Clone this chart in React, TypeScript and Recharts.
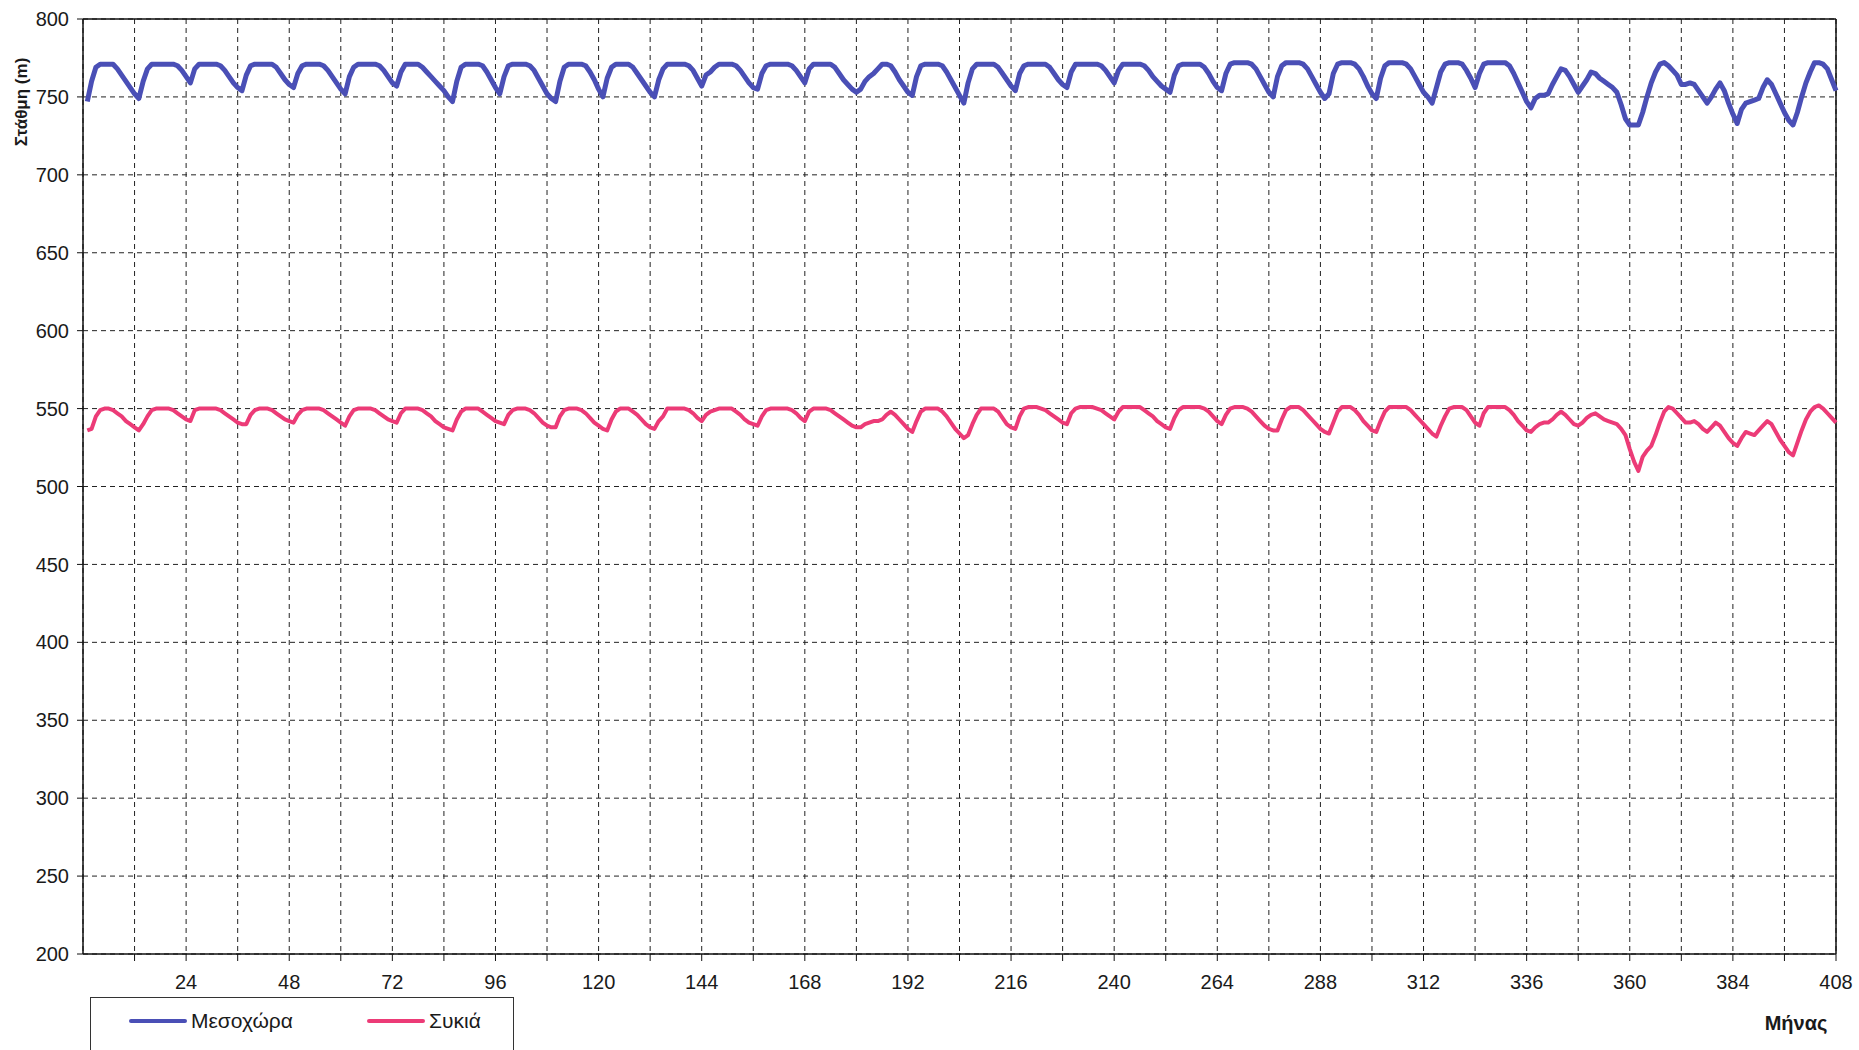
import React from "react";
import { LineChart, Line, XAxis, YAxis, CartesianGrid, ReferenceLine } from "recharts";

// Monthly water level (m) – Mesochora reservoir, months 1..408
const mesochora: number[] = [
  747, 760, 769, 771, 771, 771, 771, 768, 764, 760, 756, 752,
  749, 760, 768, 771, 771, 771, 771, 771, 771, 770, 767, 763,
  759, 768, 771, 771, 771, 771, 771, 770, 767, 763, 759, 756,
  754, 764, 770, 771, 771, 771, 771, 771, 769, 765, 761, 758,
  756, 765, 770, 771, 771, 771, 771, 770, 767, 763, 759, 755,
  752, 763, 769, 771, 771, 771, 771, 771, 770, 767, 763, 759,
  757, 766, 771, 771, 771, 771, 769, 766, 763, 760, 757, 754,
  750, 747, 760, 769, 771, 771, 771, 771, 770, 766, 761, 756,
  752, 763, 770, 771, 771, 771, 771, 770, 767, 762, 757, 752,
  749, 747, 760, 769, 771, 771, 771, 771, 770, 766, 761, 755,
  750, 762, 769, 771, 771, 771, 771, 769, 765, 761, 757, 753,
  750, 761, 768, 771, 771, 771, 771, 771, 770, 767, 762, 757,
  764, 766, 769, 771, 771, 771, 771, 770, 767, 763, 759, 756,
  755, 765, 770, 771, 771, 771, 771, 771, 770, 767, 763, 759,
  768, 771, 771, 771, 771, 771, 769, 765, 761, 758, 755, 753,
  755, 760, 763, 765, 768, 771, 771, 770, 766, 761, 757, 753,
  751, 763, 770, 771, 771, 771, 771, 770, 766, 761, 756, 751,
  746, 759, 768, 771, 771, 771, 771, 771, 769, 765, 761, 757,
  754, 765, 770, 771, 771, 771, 771, 771, 769, 765, 761, 758,
  756, 766, 771, 771, 771, 771, 771, 771, 770, 767, 763, 759,
  767, 771, 771, 771, 771, 771, 770, 767, 763, 760, 757, 755,
  753, 764, 770, 771, 771, 771, 771, 771, 769, 765, 760, 756,
  754, 765, 771, 772, 772, 772, 772, 771, 768, 763, 758, 753,
  750, 763, 770, 772, 772, 772, 772, 771, 768, 763, 758, 753,
  749, 752, 765, 771, 772, 772, 772, 771, 768, 763, 757, 752,
  749, 762, 770, 772, 772, 772, 772, 771, 768, 763, 758, 753,
  750, 746, 756, 766, 771, 772, 772, 772, 771, 767, 762, 756,
  765, 771, 772, 772, 772, 772, 772, 770, 765, 759, 753, 747,
  743, 749, 751, 751, 752, 758, 763, 768, 767, 763, 758, 753,
  757, 761, 766, 765, 762, 760, 758, 756, 753, 745, 736, 732,
  732, 732, 740, 750, 759, 766, 771, 772, 770, 767, 764, 758,
  758, 759, 758, 754, 750, 746, 750, 755, 759, 754, 746, 739,
  733, 742, 746, 747, 748, 749, 756, 761, 758, 752, 746, 740,
  735, 732, 740, 750, 759, 766, 772, 772, 771, 768, 761, 754,
];

// Monthly water level (m) – Sykia reservoir, months 1..408
const sykia: number[] = [
  536, 537, 545, 549, 550, 550, 549, 547, 545, 542, 540, 538,
  536, 540, 545, 549, 550, 550, 550, 550, 549, 547, 545, 543,
  542, 549, 550, 550, 550, 550, 550, 549, 547, 545, 543, 541,
  540, 540, 546, 549, 550, 550, 550, 549, 547, 545, 543, 542,
  541, 546, 549, 550, 550, 550, 550, 549, 547, 545, 543, 541,
  539, 545, 549, 550, 550, 550, 550, 549, 547, 545, 543, 542,
  541, 547, 550, 550, 550, 550, 549, 547, 545, 542, 540, 538,
  537, 536, 543, 548, 550, 550, 550, 550, 548, 546, 544, 542,
  541, 540, 546, 549, 550, 550, 550, 549, 547, 544, 541, 539,
  538, 538, 545, 549, 550, 550, 550, 549, 547, 544, 541, 539,
  537, 536, 543, 548, 550, 550, 550, 548, 546, 543, 540, 538,
  537, 542, 545, 550, 550, 550, 550, 550, 549, 547, 544, 542,
  546, 548, 549, 550, 550, 550, 550, 548, 546, 543, 541, 540,
  539, 545, 549, 550, 550, 550, 550, 550, 549, 547, 544, 542,
  548, 550, 550, 550, 550, 549, 547, 545, 543, 541, 539, 538,
  538, 540, 541, 542, 542, 543, 546, 548, 546, 543, 540, 537,
  535, 542, 548, 550, 550, 550, 550, 548, 545, 541, 537, 534,
  531, 533, 540, 546, 550, 550, 550, 550, 548, 544, 540, 538,
  537, 545, 550, 551, 551, 551, 550, 549, 547, 545, 543, 541,
  540, 547, 550, 551, 551, 551, 551, 550, 549, 547, 545, 543,
  548, 551, 551, 551, 551, 551, 549, 547, 545, 542, 540, 538,
  537, 544, 549, 551, 551, 551, 551, 551, 550, 548, 545, 542,
  540, 546, 550, 551, 551, 551, 550, 548, 545, 542, 539, 537,
  536, 536, 543, 549, 551, 551, 551, 549, 546, 543, 540, 537,
  535, 534, 541, 548, 551, 551, 551, 549, 546, 542, 539, 536,
  535, 542, 548, 551, 551, 551, 551, 551, 549, 546, 543, 540,
  537, 534, 532, 539, 545, 550, 551, 551, 551, 549, 545, 541,
  539, 547, 551, 551, 551, 551, 551, 549, 546, 542, 539, 536,
  535, 538, 540, 541, 541, 543, 546, 548, 546, 543, 540, 539,
  541, 544, 546, 547, 545, 543, 542, 541, 540, 537, 533, 524,
  516, 510, 519, 523, 526, 533, 541, 548, 551, 550, 547, 544,
  541, 541, 542, 540, 537, 535, 538, 541, 539, 535, 531, 528,
  526, 531, 535, 534, 533, 536, 539, 542, 540, 535, 530, 526,
  522, 520, 528, 536, 543, 548, 551, 552, 550, 547, 544, 541,
];

const months: number[] = mesochora.map((_, i) => i + 1);

const xTicks: number[] = [
  12, 24, 36, 48, 60, 72, 84, 96, 108, 120, 132, 144, 156, 168, 180, 192, 204,
  216, 228, 240, 252, 264, 276, 288, 300, 312, 324, 336, 348, 360, 372, 384, 396, 408,
];
const xLabels: number[] = [24, 48, 72, 96, 120, 144, 168, 192, 216, 240, 264, 288, 312, 336, 360, 384, 408];
const yTicks: number[] = [200, 250, 300, 350, 400, 450, 500, 550, 600, 650, 700, 750, 800];

const seriesNames = ["Μεσοχώρα", "Συκιά"];
const seriesColors = ["#4a4fb6", "#ec3b77"];

const data = months.map((m, i) => ({ month: m, mesochora: mesochora[i], sykia: sykia[i] }));

const FONT = "'Liberation Sans', Arial, Helvetica, sans-serif";

export default function App() {
  return (
    <div
      style={{
        position: "absolute",
        left: 0,
        top: 0,
        width: 1859,
        height: 1050,
        background: "#fff",
        overflow: "hidden",
        fontFamily: FONT,
      }}
    >
      <LineChart
        width={1859}
        height={1050}
        data={data}
        margin={{ top: 19, right: 23, left: 0, bottom: 0 }}
        style={{ fontFamily: FONT }}
      >
        <CartesianGrid stroke="#222" strokeDasharray="5 4" strokeWidth={1} />
        <XAxis
          type="number"
          dataKey="month"
          domain={[0, 408]}
          ticks={xTicks}
          interval={0}
          tickFormatter={(v: number) => (xLabels.includes(v) ? String(v) : "")}
          height={96}
          tickSize={7}
          tickMargin={14}
          tick={{ fill: "#1a1a1a", fontSize: 20 }}
          axisLine={{ stroke: "#111", strokeWidth: 1.5 }}
          tickLine={{ stroke: "#111" }}
        />
        <YAxis
          type="number"
          domain={[200, 800]}
          ticks={yTicks}
          interval={0}
          width={83}
          tickSize={6}
          tickMargin={8}
          tick={{ fill: "#1a1a1a", fontSize: 20 }}
          axisLine={{ stroke: "#111", strokeWidth: 1.5 }}
          tickLine={{ stroke: "#111" }}
        />
        <ReferenceLine y={800} stroke="#111" strokeWidth={1.5} />
        <ReferenceLine x={408} stroke="#111" strokeWidth={1.5} />
        <Line
          type="linear"
          dataKey="mesochora"
          name={seriesNames[0]}
          stroke={seriesColors[0]}
          strokeWidth={5}
          strokeLinejoin="round"
          dot={false}
          isAnimationActive={false}
        />
        <Line
          type="linear"
          dataKey="sykia"
          name={seriesNames[1]}
          stroke={seriesColors[1]}
          strokeWidth={4}
          strokeLinejoin="round"
          dot={false}
          isAnimationActive={false}
        />
      </LineChart>

      {/* Y axis title */}
      <div
        style={{
          position: "absolute",
          left: 22,
          top: 102,
          transform: "translate(-50%, -50%) rotate(-90deg)",
          whiteSpace: "nowrap",
          fontWeight: "bold",
          fontSize: 17,
          color: "#1a1a1a",
        }}
      >
        Στάθμη (m)
      </div>

      {/* X axis title */}
      <div
        style={{
          position: "absolute",
          left: 1796,
          top: 1023,
          transform: "translate(-50%, -50%)",
          whiteSpace: "nowrap",
          fontWeight: "bold",
          fontSize: 20,
          color: "#1a1a1a",
        }}
      >
        Μήνας
      </div>

      {/* Legend */}
      <div
        style={{
          position: "absolute",
          left: 90,
          top: 997,
          width: 424,
          height: 100,
          border: "1.5px solid #333",
          boxSizing: "border-box",
        }}
      >
        {seriesNames.map((name, i) => (
          <div
            key={name}
            style={{
              position: "absolute",
              left: i === 0 ? 38 : 276,
              top: 8,
              display: "flex",
              alignItems: "center",
              height: 30,
            }}
          >
            <div style={{ width: 58, height: 4, background: seriesColors[i], borderRadius: 2 }} />
            <span style={{ marginLeft: 4, fontSize: 21, color: "#1a1a1a" }}>{name}</span>
          </div>
        ))}
      </div>
    </div>
  );
}
